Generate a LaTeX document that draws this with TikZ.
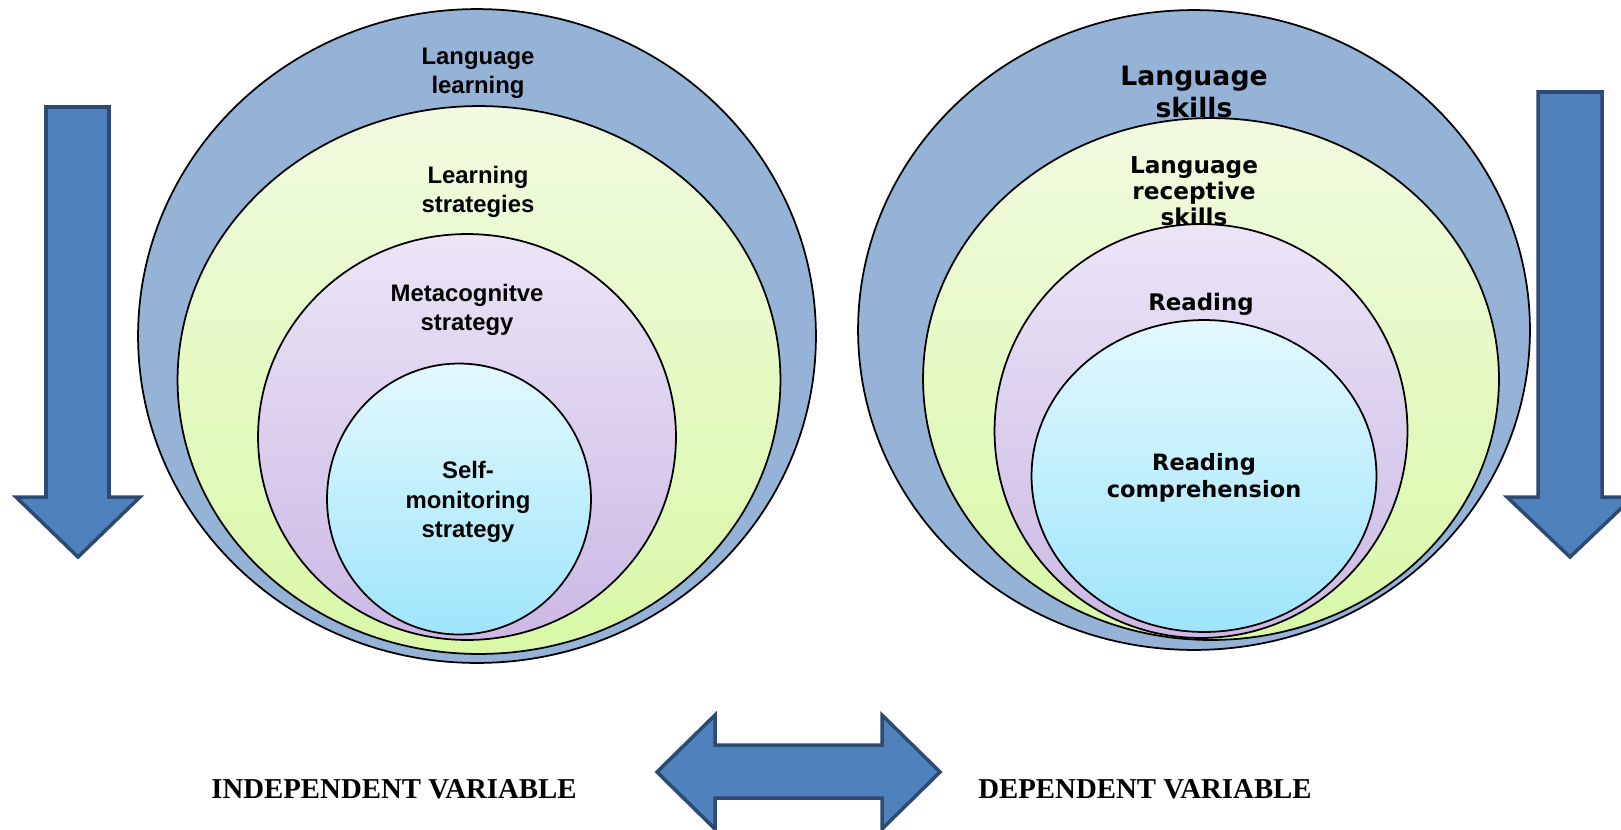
\documentclass[tikz,border=0pt]{standalone}
\usepackage{fontspec}
\usetikzlibrary{shapes.geometric}
\newfontfamily\ringfont{Liberation Sans}
\newfontfamily\skillfont{DejaVu Sans}
\newfontfamily\varfont{Liberation Serif}
\definecolor{outerblue}{HTML}{95B3D7}
\definecolor{arrowfill}{HTML}{4F81BD}
\definecolor{arrowline}{HTML}{2C4A72}
\begin{document}
\begin{tikzpicture}[x=0.02cm, y=-0.02cm,
    ring/.style={draw, ellipse, line width=1pt, inner sep=0pt},
    greenring/.style={ring, top color={rgb,255:red,241;green,250;blue,224}, bottom color={rgb,255:red,216;green,248;blue,166}},
    purplering/.style={ring, top color={rgb,255:red,235;green,229;blue,247}, bottom color={rgb,255:red,203;green,184;blue,228}},
    cyanring/.style={ring, top color={rgb,255:red,226;green,248;blue,253}, bottom color={rgb,255:red,158;green,229;blue,251}},
    leftlbl/.style={align=center, font=\ringfont\bfseries\fontsize{13.6pt}{16.6pt}\selectfont},
    varlbl/.style={font=\varfont\bfseries\fontsize{16.4pt}{18pt}\selectfont},
    bigarrow/.style={fill=arrowfill, draw=arrowline, line width=2pt}]
        \useasboundingbox (0,0) rectangle (1621,829);

        % left set
        \node[ring, fill=outerblue, minimum width=13.56cm, minimum height=13.08cm] (langlearn) at (477,336) {};
        \node[greenring, minimum width=12.06cm, minimum height=10.96cm] (learnstrat) at (479,380) {};
        \node[purplering, minimum width=8.36cm, minimum height=8.12cm] (metacog) at (467,437) {};
        \node[cyanring, minimum width=5.28cm, minimum height=5.42cm] (selfmon) at (459,499) {};

        \node[leftlbl] (langlearnlbl) at (478,73) {Language\\learning};
        \node[leftlbl] (learnstratlbl) at (478,192) {Learning\\strategies};
        \node[leftlbl] (metacoglbl) at (467,310) {Metacognitve\\strategy};
        \node[leftlbl] (selfmonlbl) at (468,502) {Self-\\monitoring\\strategy};

        % right set
        \node[ring, fill=outerblue, minimum width=13.44cm, minimum height=12.8cm] (langskills) at (1194,330) {};
        \node[greenring, minimum width=11.52cm, minimum height=10.44cm] (receptive) at (1211,379) {};
        \node[purplering, minimum width=8.26cm, minimum height=8.28cm] (reading) at (1201,431) {};
        \node[cyanring, minimum width=6.9cm, minimum height=6.24cm] (readcomp) at (1204,476) {};

        \node[align=center, font=\skillfont\bfseries\fontsize{15.2pt}{18.2pt}\selectfont] (langskillslbl) at (1194,92) {Language\\skills};
        \node[align=center, font=\skillfont\bfseries\fontsize{13.2pt}{14.8pt}\selectfont] (receptivelbl) at (1194,191) {Language\\receptive\\skills};
        \node[font=\skillfont\bfseries\fontsize{13pt}{15pt}\selectfont] (readinglbl) at (1201,304) {Reading};
        \node[align=center, font=\skillfont\bfseries\fontsize{12.8pt}{15.4pt}\selectfont] (readcomplbl) at (1204,478) {Reading\\comprehension};

        % arrows
        \draw[bigarrow] (46,107) -- (109,107) -- (109,497) -- (140,497) -- (78,557) -- (16,497) -- (46,497) -- cycle;
        \draw[bigarrow] (1538,92) -- (1602,92) -- (1602,497) -- (1633,497) -- (1570,557) -- (1507,497) -- (1538,497) -- cycle;
        \draw[bigarrow] (657,772) -- (715,715) -- (715,745) -- (882,745) -- (882,715) -- (940,772) -- (882,829) -- (882,798) -- (715,798) -- (715,829) -- cycle;

        \node[varlbl] (indep) at (394,789) {INDEPENDENT VARIABLE};
        \node[varlbl] (dep) at (1145,789) {DEPENDENT VARIABLE};
    \end{tikzpicture}
\end{document}
